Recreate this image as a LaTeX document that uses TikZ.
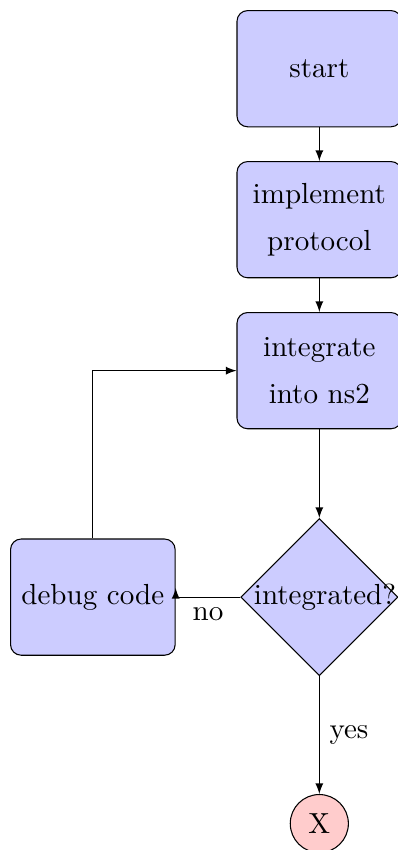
\documentclass[11pt,tikz,border=0pt]{standalone}
\usepackage{amsmath}
\linespread{1.28}
\usetikzlibrary{shapes.geometric}

\begin{document}
\begin{tikzpicture}[
	block/.style={rectangle, draw, fill=blue!20, text width=5em, text centered, rounded corners, minimum height=4em},
	decision/.style={diamond, draw, fill=blue!20, text width=4.5em, text badly centered, inner sep=0pt},
	terminal/.style={circle, draw, fill=red!20, minimum size=2em, inner sep=0pt},
	line/.style={draw, -latex}]
	\useasboundingbox (0,0) rectangle (5.27,-11.26);
	\node[block] (start) at (4.23,-0.91) {start};
	\node[block] (impl) at (4.23,-2.91) {implement protocol};
	\node[block] (integ) at (4.23,-4.91) {integrate into ns2};
	\node[decision] (decide) at (4.23,-7.91) {integrated?};
	\node[block] (debug) at (1.23,-7.91) {debug code};
	\node[terminal] (stop) at (4.23,-10.91) {X};
	\draw[line] (start) -- (impl);
	\draw[line] (impl) -- (integ);
	\draw[line] (integ) -- (decide);
	\draw[line] (decide) -- node[below] {no} (debug.east) -- ++(0,0.12);
	\draw[line] (decide) -- node[midway, right] {yes} (stop);
	\draw[line] (debug) |- (integ);
\end{tikzpicture}
\end{document}
